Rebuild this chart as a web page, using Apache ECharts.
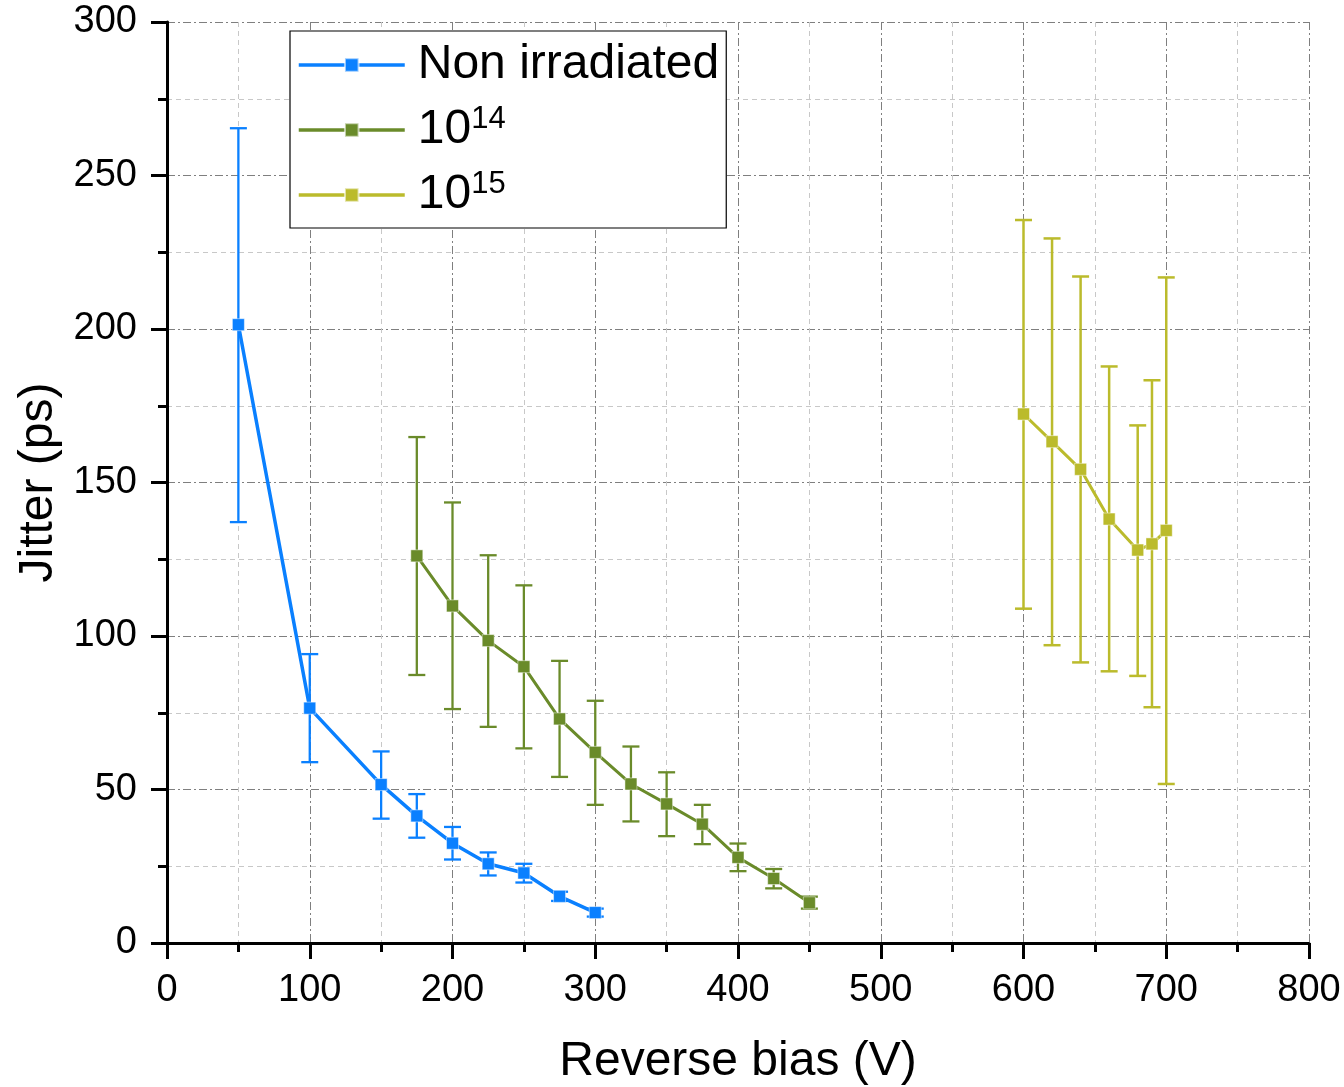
<!DOCTYPE html>
<html><head><meta charset="utf-8">
<script src="https://cdn.jsdelivr.net/npm/echarts@6/dist/echarts.min.js"></script>
<style>html,body{margin:0;padding:0;background:#fff}#c{width:1344px;height:1087px}</style>
</head><body><div id="c"></div>
<script>
// ---- data ----
const seriesNames = ['Non irradiated', '10^14', '10^15'];
const biasNon = [50, 100, 150, 175, 200, 225, 250, 275, 300];
const jitterNon = [201.4, 76.5, 51.6, 41.4, 32.5, 25.8, 22.8, 15.2, 9.9];
const errLowNon = [137.1, 58.9, 40.5, 34.3, 27.2, 22.0, 19.7, 13.7, 8.6];
const errHighNon = [265.4, 94.1, 62.4, 48.5, 37.8, 29.5, 25.8, 16.7, 11.2];

const bias14 = [175, 200, 225, 250, 275, 300, 325, 350, 375, 400, 425, 450];
const jitter14 = [126.1, 109.8, 98.5, 90.0, 73.0, 62.1, 51.8, 45.3, 38.7, 27.9, 21.0, 13.1];
const errLow14 = [87.3, 76.2, 70.4, 63.4, 54.1, 45.0, 39.6, 34.8, 32.2, 23.4, 17.8, 11.2];
const errHigh14 = [164.8, 143.5, 126.3, 116.5, 91.9, 78.9, 64.0, 55.6, 45.0, 32.4, 24.1, 15.1];

const bias15 = [600, 620, 640, 660, 680, 690, 700];
const jitter15 = [172.3, 163.3, 154.3, 138.1, 128.0, 130.0, 134.4];
const errLow15 = [108.9, 97.0, 91.4, 88.5, 87.0, 76.8, 51.8];
const errHigh15 = [235.5, 229.5, 217.1, 187.8, 168.6, 183.3, 216.8];

const xAxisRange = { min: 0, max: 800, interval: 100 };
const yAxisRange = { min: 0, max: 300, interval: 50 };
const xTitle = 'Reverse bias (V)';
const yTitle = 'Jitter (ps)';

// ---- styles ----
const colors = ['#0A80FF', '#6A8B2A', '#BBBB2C'];
const FONT = '"Liberation Sans", Arial, Helvetica, sans-serif';

function zip(xs, ys) { return xs.map((x, i) => [x, ys[i]]); }
function zip3(xs, lo, hi) { return xs.map((x, i) => [x, lo[i], hi[i]]); }

function errRender(color, capW, lw) {
  return function (params, api) {
    const x = api.value(0);
    const lo = api.coord([x, api.value(1)]);
    const hi = api.coord([x, api.value(2)]);
    const h = capW / 2;
    const st = { stroke: color, lineWidth: lw };
    return {
      type: 'group', children: [
        { type: 'line', shape: { x1: lo[0], y1: lo[1], x2: hi[0], y2: hi[1] }, style: st },
        { type: 'line', shape: { x1: lo[0] - h, y1: lo[1], x2: lo[0] + h, y2: lo[1] }, style: st },
        { type: 'line', shape: { x1: hi[0] - h, y1: hi[1], x2: hi[0] + h, y2: hi[1] }, style: st }
      ]
    };
  };
}

function lineSeries(name, xs, ys, color, lw) {
  return {
    name: name, type: 'line', data: zip(xs, ys), z: 3,
    symbol: 'rect', symbolSize: 12, showSymbol: true,
    lineStyle: { color: color, width: lw },
    itemStyle: { color: color, borderColor: 'rgba(255,255,255,0.6)', borderWidth: 0.8 },
    emphasis: { disabled: true }, animation: false
  };
}
function errSeries(xs, lo, hi, color, lw) {
  return {
    type: 'custom', data: zip3(xs, lo, hi), z: 2,
    encode: { x: 0, y: [1, 2] },
    renderItem: errRender(color, 17, lw), animation: false, silent: true
  };
}

const axisCommon = {
  axisLine: { show: true, onZero: false, lineStyle: { color: '#000', width: 3 } },
  axisTick: { show: true, inside: false, length: 16, lineStyle: { color: '#000', width: 3 } },
  minorTick: { show: true, splitNumber: 2, length: 9, lineStyle: { color: '#000', width: 3 } },
  splitLine: { show: true, lineStyle: { color: '#7f7f7f', width: 1, type: [8, 3, 2, 3] } },
  minorSplitLine: { show: true, lineStyle: { color: '#c8c8c8', width: 1, type: [5, 4] } },
  axisLabel: { color: '#000', fontSize: 38, fontFamily: FONT },
  nameLocation: 'middle',
  nameTextStyle: { color: '#000', fontSize: 48, fontFamily: FONT }
};

const chart = echarts.init(document.getElementById('c'), null, { renderer: 'canvas' });
chart.setOption({
  backgroundColor: '#fff',
  animation: false,
  grid: { left: 167, right: 35, top: 22, bottom: 144, containLabel: false, outerBoundsMode: 'none' },
  xAxis: Object.assign({}, axisCommon, {
    type: 'value', min: xAxisRange.min, max: xAxisRange.max, interval: xAxisRange.interval,
    name: xTitle, nameGap: 95,
    axisLabel: Object.assign({}, axisCommon.axisLabel, { margin: 29 })
  }),
  yAxis: Object.assign({}, axisCommon, {
    type: 'value', min: yAxisRange.min, max: yAxisRange.max, interval: yAxisRange.interval,
    name: yTitle, nameGap: 103,
    axisLabel: Object.assign({}, axisCommon.axisLabel, { margin: 30 })
  }),
  legend: {
    data: seriesNames,
    orient: 'vertical', left: 290, top: 31,
    backgroundColor: '#fff', borderColor: '#000', borderWidth: 1.2,
    padding: [8, 7, 7, 7],
    itemWidth: 106, itemHeight: 17, itemGap: 13,
    selectedMode: false,
    lineStyle: { width: 3.5 },
    textStyle: {
      color: '#000', fontSize: 48, fontFamily: FONT, lineHeight: 52, padding: [0, 0, 0, 8],
      rich: {
        sup: { fontSize: 31, fontFamily: FONT, color: '#000', verticalAlign: 'top', lineHeight: 36, padding: [0, 0, 0, 0] }
      }
    },
    formatter: function (name) {
      const m = name.match(/^10\^(\d+)$/);
      return m ? '10{sup|' + m[1] + '}' : name;
    }
  },
  series: [
    errSeries(biasNon, errLowNon, errHighNon, colors[0], 2.3),
    errSeries(bias14, errLow14, errHigh14, colors[1], 2.3),
    errSeries(bias15, errLow15, errHigh15, colors[2], 2.5),
    lineSeries(seriesNames[0], biasNon, jitterNon, colors[0], 3.5),
    lineSeries(seriesNames[1], bias14, jitter14, colors[1], 3),
    lineSeries(seriesNames[2], bias15, jitter15, colors[2], 3)
  ]
});
</script>
</body></html>
